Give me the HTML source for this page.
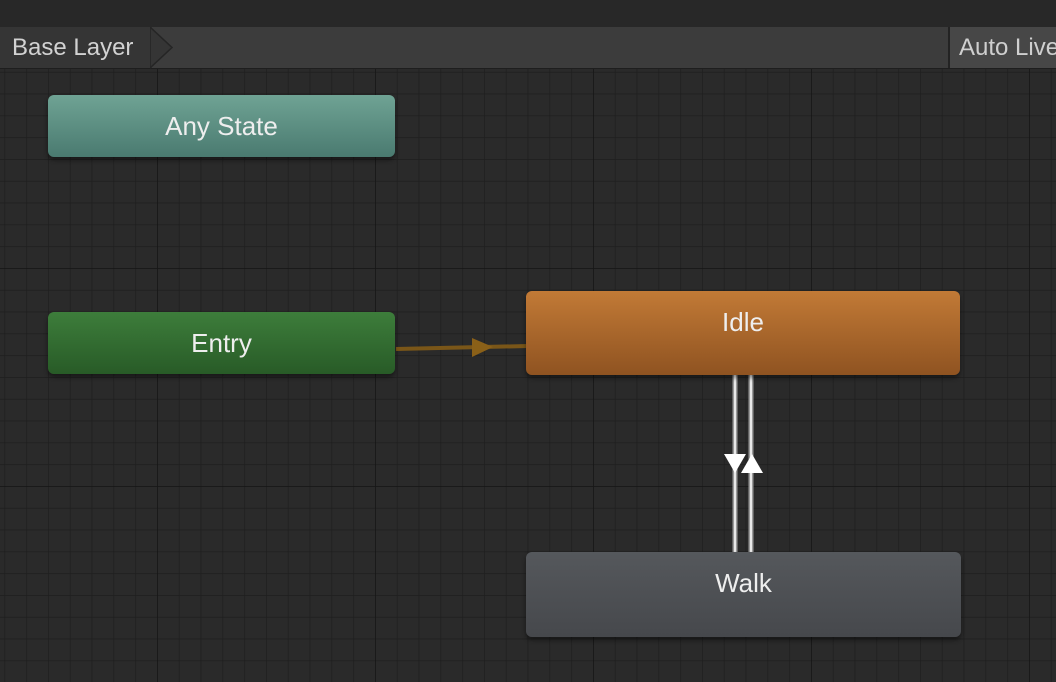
<!DOCTYPE html>
<html><head><style>
html,body{margin:0;padding:0;background:#282828;width:1056px;height:682px;overflow:hidden;font-family:"Liberation Sans",sans-serif}
.top{position:absolute;left:0;top:0;width:1056px;height:27px;background:#282828}
.bar{position:absolute;left:0;top:27px;width:1056px;height:41px;background:#3c3c3c;border-bottom:1px solid #1e1e1e}
.bl{position:absolute;left:12px;top:34px;color:#d2d2d2;font-size:24px}
.al{position:absolute;left:948px;top:27px;width:106px;height:41px;background:#474747;border-left:2px solid #232323;overflow:hidden}
.al span{position:absolute;left:9px;top:7px;color:#cfcfcf;font-size:24px;white-space:nowrap}
.node{position:absolute;border-radius:6px;color:#eee;font-size:26px;text-align:center;box-shadow:0 3px 5px rgba(0,0,0,.45)}
</style></head><body>
<svg width="1056" height="682" style="position:absolute;left:0;top:0">
<defs>
<pattern id="mn" x="-61" y="50" width="21.8" height="21.8" patternUnits="userSpaceOnUse">
<path d="M0 0H21.8M0 0V21.8" stroke="#1e1e1e" stroke-width="1.4" fill="none"/>
</pattern>
<pattern id="mj" x="-61" y="50" width="218" height="218" patternUnits="userSpaceOnUse">
<path d="M0 0H218M0 0V218" stroke="#161616" stroke-width="1.6" fill="none"/>
</pattern>
</defs>
<rect width="1056" height="682" fill="#2a2a2a"/>
<rect width="1056" height="682" fill="url(#mn)"/>
<rect width="1056" height="682" fill="url(#mj)"/>
<line x1="396" y1="349" x2="528" y2="346" stroke="#7a5618" stroke-width="4"/>
<polygon points="472,338 472,357 493,347" fill="#8a6018"/>
<line x1="735" y1="375" x2="735" y2="553" stroke="#9a9a9a" stroke-width="5"/>
<line x1="735" y1="375" x2="735" y2="553" stroke="#e8e8e8" stroke-width="2"/>
<line x1="751" y1="375" x2="751" y2="553" stroke="#9a9a9a" stroke-width="5"/>
<line x1="751" y1="375" x2="751" y2="553" stroke="#e8e8e8" stroke-width="2"/>
<polygon points="724,454 746,454 735,473" fill="#fff"/>
<polygon points="741,473 763,473 752,454" fill="#fff"/>
</svg>
<div class="top"></div>
<div class="bar"></div>
<div style="position:absolute;left:0;top:27px;width:152px;height:41px;background:#353535"></div>
<svg width="30" height="42" style="position:absolute;left:150px;top:27px"><polygon points="0,0 22,20.5 0,41" fill="#353535" stroke="#252525" stroke-width="1.5"/></svg>
<div class="bl">Base Layer</div>
<div class="al"><span>Auto Live Link</span></div>
<div class="node" style="left:48px;top:95px;width:347px;height:62px;line-height:62px;background:linear-gradient(#6fa394,#4a7a70)">Any State</div>
<div class="node" style="left:48px;top:312px;width:347px;height:62px;line-height:62px;background:linear-gradient(#3d7d3b,#285b27)">Entry</div>
<div class="node" style="left:526px;top:291px;width:434px;height:84px;line-height:62px;background:linear-gradient(#c27a36,#8f5321)">Idle</div>
<div class="node" style="left:526px;top:552px;width:435px;height:85px;line-height:62px;background:linear-gradient(#55585c,#46484c)">Walk</div>
</body></html>
